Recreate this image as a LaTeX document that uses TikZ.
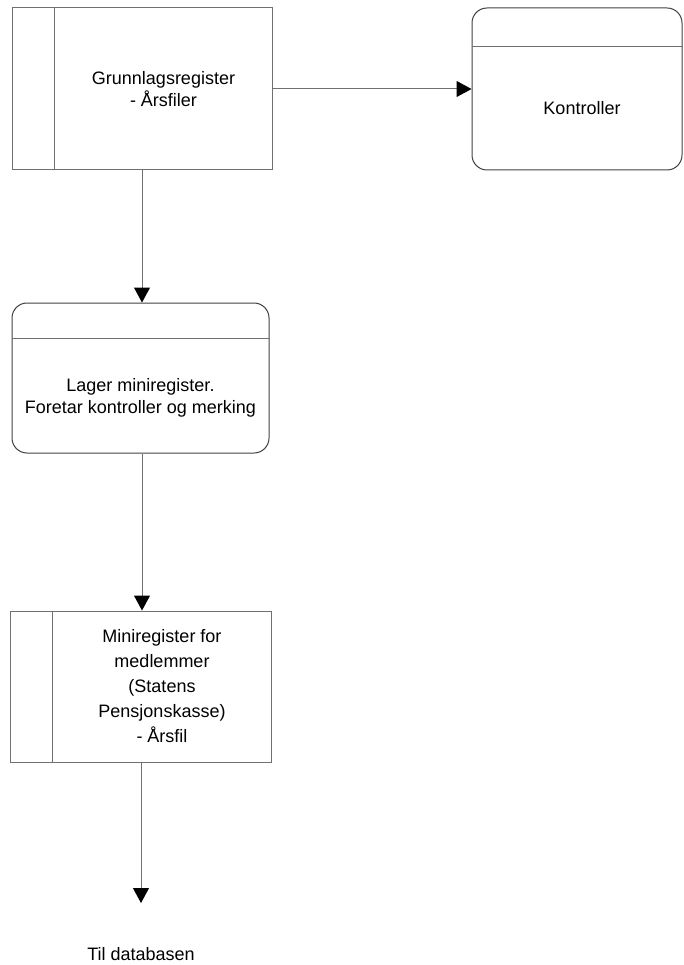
\documentclass[tikz,border=0pt]{standalone}
\usepackage{fontspec}
\setmainfont{Liberation Sans}
\usetikzlibrary{arrows.meta}
\definecolor{linegray}{HTML}{707070}
\definecolor{darkline}{HTML}{404040}
\tikzset{
  filebox/.style={draw=linegray, line width=1pt, rectangle, inner sep=0pt},
  procbox/.style={draw=darkline, line width=1pt, rectangle, rounded corners=15pt, inner sep=0pt},
  sepline/.style={draw=linegray, line width=1pt},
  conn/.style={draw=linegray, line width=1pt, -{Triangle[length=15pt,width=16pt,fill=black,color=black]}},
  lbl/.style={align=center, inner sep=0pt, font=\fontsize{18}{21.7}\selectfont},
}
\begin{document}
\begin{tikzpicture}[x=1pt,y=-1pt]
\useasboundingbox (0,0) rectangle (683,965);
% Grunnlagsregister
\node[filebox, minimum width=260pt, minimum height=162pt] (g1) at (142,89) {};
\draw[sepline] ([xshift=43pt]g1.north west) -- ([xshift=43pt]g1.south west);
\node[lbl] (g1t) at (163.5,89) {Grunnlagsregister\\- Årsfiler};
% Kontroller
\node[procbox, minimum width=210pt, minimum height=162pt] (k) at (577,89) {};
\draw[sepline] ([yshift=-39pt]k.north west) -- ([yshift=-39pt]k.north east);
\node[lbl] (kt) at (582,108) {Kontroller};
% Lager miniregister
\node[procbox, minimum width=257pt, minimum height=150pt] (m) at (140.5,378) {};
\draw[sepline] ([yshift=-36pt]m.north west) -- ([yshift=-36pt]m.north east);
\node[lbl] (mt) at (140.5,397.5) {Lager miniregister.\\Foretar kontroller og merking};
% Miniregister for medlemmer
\node[filebox, minimum width=261pt, minimum height=151pt] (b) at (140.5,686.5) {};
\draw[sepline] ([xshift=43pt]b.north west) -- ([xshift=43pt]b.south west);
\node[lbl, font=\fontsize{18}{25}\selectfont] (bt) at (162,686) {Miniregister for\\medlemmer\\(Statens\\Pensjonskasse)\\- Årsfil};
% Til databasen
\coordinate (end) at (141,903);
\node[lbl] (db) at (141,954) {Til databasen};
% connectors
\draw[conn] (g1.east) -- (k.west);
\draw[conn] (g1.south) -- (g1.south |- m.north);
\draw[conn] (m.south -| 142,0) -- (b.north -| 142,0);
\draw[conn] (b.south -| end) -- (end);
\end{tikzpicture}
\end{document}
